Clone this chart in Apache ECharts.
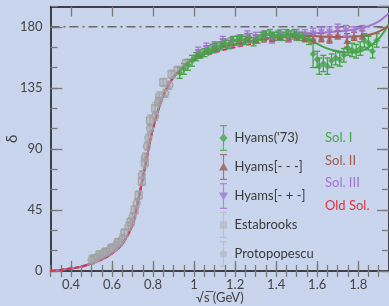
<!DOCTYPE html>
<html>
<head>
<meta charset="utf-8">
<script src="https://cdn.jsdelivr.net/npm/echarts@6/dist/echarts.min.js"></script>
<style>
  html, body { margin: 0; padding: 0; background: #c9d5ec; }
  #chart { width: 389px; height: 306px; }
</style>
</head>
<body>
<div id="chart"></div>
<script>
// axis ticks
const xMajor = [0.4, 0.6, 0.8, 1.0, 1.2, 1.4, 1.6, 1.8]

// shared low-energy part of the fitted phase shift (all solutions agree there)
const lowX = [0.3, 0.35, 0.4, 0.45, 0.5, 0.55, 0.6, 0.65, 0.7, 0.72, 0.745, 0.77, 0.79, 0.81, 0.83, 0.86, 0.9, 0.95]
const lowY = [0, 0.8, 1.8, 3.2, 5.5, 8.5, 13, 20, 34, 47, 65, 84, 99, 111, 121, 133, 143, 151]

// above 1 GeV
const midX = [1.0, 1.1, 1.2, 1.3, 1.4]
const midY = [157, 163, 167, 170, 172.5]
const oldSolX = [1.0, 1.1, 1.2, 1.3, 1.4, 1.45]
const oldSolY = [155.5, 161, 165, 168, 170.5, 171.5]
const sol1X = [1.45, 1.5, 1.55, 1.58, 1.62, 1.66, 1.7, 1.75, 1.8, 1.84, 1.88, 1.91, 1.95]
const sol1Y = [173.5, 172.5, 171, 169, 166, 163.5, 162, 161, 161.5, 164, 168.5, 173, 182]
const sol2X = [1.45, 1.5, 1.6, 1.7, 1.8, 1.85, 1.9, 1.95]
const sol2Y = [173, 173.5, 173, 172.5, 173, 174, 176.5, 181]
const sol3X = [1.45, 1.5, 1.6, 1.7, 1.8, 1.85, 1.9, 1.95]
const sol3Y = [174, 175, 175.5, 176.5, 178.5, 180.5, 184, 190]

// data points: x, delta, error
const hyamsX = [0.93, 0.95, 0.97, 0.99, 1.01, 1.03, 1.05, 1.07, 1.09, 1.11, 1.13, 1.15, 1.17, 1.19, 1.21, 1.23, 1.25, 1.27, 1.29, 1.31, 1.33, 1.35, 1.37, 1.39, 1.41, 1.43, 1.45, 1.47, 1.49, 1.51, 1.53, 1.56, 1.58, 1.6, 1.61, 1.63, 1.65, 1.67, 1.69, 1.71, 1.73, 1.75, 1.77, 1.79, 1.81, 1.83, 1.85, 1.87, 1.89]
const hyamsY = [146, 149, 152, 155, 158, 160, 161, 163, 164, 165, 166, 168, 167, 170, 170, 171, 170, 172, 169, 171, 173, 174, 175, 173, 174, 173, 175, 174, 175, 173, 173, 171, 160, 156, 151, 153, 151, 155, 157, 156, 159, 164, 163, 162, 164, 170, 168, 162, 170]
const hyamsErr = [4, 4, 4, 4, 3, 3, 3, 3, 3, 3, 3, 3, 3, 3, 3, 3, 3, 3, 3, 3, 3, 3, 3, 3, 3, 3, 3, 3, 3, 3, 3, 4, 10, 6, 6, 6, 6, 5, 5, 5, 5, 5, 5, 5, 5, 5, 5, 5, 5]

const hyamsMmmX = [1.02, 1.06, 1.1, 1.14, 1.18, 1.22, 1.26, 1.3, 1.34, 1.38, 1.42, 1.46, 1.5, 1.54, 1.58, 1.62, 1.66, 1.7, 1.745, 1.78, 1.82]
const hyamsMmmY = [160, 163, 165, 168, 169, 170, 172, 171, 173, 172, 173, 172, 173, 172, 171, 172, 171, 174, 170, 173, 174]
const hyamsMmmErr = [3, 3, 3, 3, 3, 3, 3, 3, 3, 3, 3, 3, 3, 3, 3, 3, 3, 3, 5, 3, 3]

const hyamsMpmX = [1.02, 1.06, 1.1, 1.14, 1.18, 1.22, 1.26, 1.3, 1.34, 1.38, 1.42, 1.46, 1.5, 1.54, 1.58, 1.62, 1.66, 1.7, 1.74, 1.78, 1.82]
const hyamsMpmY = [161, 164, 165, 169, 168, 170, 173, 172, 173, 172, 174, 173, 174, 174, 175, 176, 176, 178, 177, 176, 177]
const hyamsMpmErr = [4, 4, 4, 4, 4, 4, 4, 4, 4, 4, 4, 4, 4, 4, 4, 4, 4, 4, 4, 4, 4]

const estaX = [0.51, 0.54, 0.57, 0.6, 0.63, 0.66, 0.69, 0.71, 0.73, 0.745, 0.76, 0.785, 0.81, 0.83, 0.85, 0.89, 0.92, 0.96]
const estaY = [9, 12, 14, 17, 21, 28, 36, 45, 56, 66, 80, 111, 120, 128, 139, 145, 148, 153]
const estaErr = [3, 3, 3, 3, 3, 3, 3, 3, 3, 3, 4, 4, 4, 4, 3, 3, 3, 3]

const protoX = [0.5, 0.53, 0.56, 0.59, 0.62, 0.65, 0.68, 0.7, 0.72, 0.745, 0.76, 0.77, 0.777, 0.785, 0.81, 0.825, 0.86, 0.88]
const protoY = [8, 10, 13, 16, 19, 24, 33, 40, 50, 71, 84, 92, 98, 105, 114, 125, 131, 137]
const protoErr = [3, 3, 3, 3, 3, 3, 3, 3, 3, 3, 3, 3, 3, 3, 3, 3, 3, 3]

const green = '#45a445'
const brown = '#a05c4c'
const purple = '#a375d2'
const red = '#e2323f'
const gray = '#a0a0a0'
const grayFill = 'rgba(165,165,165,0.6)'
const font = 'Lato'

const zip = (xs, ys) => xs.map((v, i) => [v, ys[i]])
const bars = (xs, ys, es) => xs.map((v, i) => [v, ys[i] - es[i], ys[i] + es[i]])

const errorBar = (params, api) => {
  const x = api.value(0)
  const p1 = api.coord([x, api.value(1)])
  const p2 = api.coord([x, api.value(2)])
  const style = { stroke: api.visual('color'), lineWidth: 1.3 }
  return {
    type: 'group',
    children: [
      { type: 'line', shape: { x1: p1[0], y1: p1[1], x2: p2[0], y2: p2[1] }, style },
      { type: 'line', shape: { x1: p1[0] - 3, y1: p1[1], x2: p1[0] + 3, y2: p1[1] }, style },
      { type: 'line', shape: { x1: p2[0] - 3, y1: p2[1], x2: p2[0] + 3, y2: p2[1] }, style }
    ]
  }
}

const barPath = 'M5.4,0H6.6V26H5.4Z M2.5,0H9.5V1.2H2.5Z M2.5,24.8H9.5V26H2.5Z '
const icons = {
  diamond: 'path://' + barPath + 'M6,8.5L10,13L6,17.5L2,13Z',
  up: 'path://' + barPath + 'M6,8.5L10.5,16.5L1.5,16.5Z',
  down: 'path://' + barPath + 'M1.5,9.5L10.5,9.5L6,17.5Z',
  square: 'path://' + barPath + 'M2.5,9.5H9.5V16.5H2.5Z',
  circle: 'path://' + barPath + 'M2.5,13A3.5,3.5 0 1 1 9.5,13A3.5,3.5 0 1 1 2.5,13Z'
}

const chart = echarts.init(document.getElementById('chart'))

const xBase = {
  type: 'value', min: 0.3, max: 1.95, gridIndex: 0,
  splitLine: { show: false }
}
const yBase = {
  type: 'value', min: 0, max: 195, gridIndex: 0,
  splitLine: { show: false }
}
const tickColor = '#7a7a7a'

const errSeries = (xs, ys, es, color) => ({
  type: 'custom',
  renderItem: errorBar,
  data: bars(xs, ys, es),
  encode: { x: 0, y: [1, 2] },
  itemStyle: { color },
  silent: true,
  z: 4
})

const pointSeries = (name, xs, ys, symbol, color, extra) => Object.assign({
  name,
  type: 'scatter',
  data: zip(xs, ys),
  symbol,
  symbolSize: 7,
  itemStyle: { color },
  silent: true,
  z: 5
}, extra || {})

const curve = (name, xs, ys, color, extra) => Object.assign({
  name,
  type: 'line',
  data: zip(xs, ys),
  smooth: 0.35,
  symbol: 'none',
  lineStyle: { color, width: 2 },
  itemStyle: { color },
  silent: true,
  z: 3
}, extra || {})

const option = {
  backgroundColor: '#c9d5ec',
  animation: false,
  grid: { left: 50.5, right: 0, top: 6.5, bottom: 35, outerBoundsMode: 'none' },
  xAxis: [
    Object.assign({}, xBase, {
      position: 'bottom',
      name: '√s̅ (GeV)',
      nameLocation: 'middle',
      nameGap: 20,
      nameMoveOverlap: false,
      nameTextStyle: { color: '#444', fontSize: 13, fontFamily: font },
      axisLine: { show: true, onZero: false, lineStyle: { color: '#111', width: 1.5 } },
      axisTick: { show: true, inside: true, length: 10, customValues: xMajor, lineStyle: { color: tickColor, width: 1.3 } },
      axisLabel: { customValues: xMajor, margin: 7, color: '#444', fontSize: 13, fontFamily: font }
    }),
    Object.assign({}, xBase, {
      position: 'bottom', interval: 0.05,
      axisLine: { show: false },
      axisTick: { show: true, inside: true, length: 6, lineStyle: { color: tickColor, width: 1.3 } },
      axisLabel: { show: false }
    }),
    Object.assign({}, xBase, {
      position: 'top',
      axisLine: { show: true, onZero: false, lineStyle: { color: '#111', width: 1.5 } },
      axisTick: { show: true, inside: true, length: 10, customValues: xMajor, lineStyle: { color: tickColor, width: 1.3 } },
      axisLabel: { show: false }
    }),
    Object.assign({}, xBase, {
      position: 'top', interval: 0.05,
      axisLine: { show: false },
      axisTick: { show: true, inside: true, length: 6, lineStyle: { color: tickColor, width: 1.3 } },
      axisLabel: { show: false }
    })
  ],
  yAxis: [
    Object.assign({}, yBase, {
      position: 'left', interval: 45,
      name: 'δ',
      nameLocation: 'middle',
      nameRotate: 90,
      nameGap: 31,
      nameMoveOverlap: false,
      nameTextStyle: { color: '#444', fontSize: 15, fontFamily: font },
      axisLine: { show: true, onZero: false, lineStyle: { color: '#111', width: 1.5 } },
      axisTick: { show: true, inside: true, length: 12, lineStyle: { color: tickColor, width: 1.3 } },
      axisLabel: { margin: 8, color: '#444', fontSize: 13, fontFamily: font, showMaxLabel: false }
    }),
    Object.assign({}, yBase, {
      position: 'left', interval: 15,
      axisLine: { show: false },
      axisTick: { show: true, inside: true, length: 7, lineStyle: { color: tickColor, width: 1.3 } },
      axisLabel: { show: false }
    }),
    Object.assign({}, yBase, {
      position: 'right', interval: 45,
      axisLine: { show: true, onZero: false, lineStyle: { color: '#111', width: 1.5 } },
      axisTick: { show: true, inside: true, length: 12, lineStyle: { color: tickColor, width: 1.3 } },
      axisLabel: { show: false }
    }),
    Object.assign({}, yBase, {
      position: 'right', interval: 15,
      axisLine: { show: false },
      axisTick: { show: true, inside: true, length: 7, lineStyle: { color: tickColor, width: 1.3 } },
      axisLabel: { show: false }
    })
  ],
  legend: [
    {
      orient: 'vertical',
      left: 214,
      top: 120,
      itemWidth: 12,
      itemHeight: 26,
      itemGap: 3,
      selectedMode: false,
      itemStyle: { borderWidth: 0 },
      textStyle: { color: '#3a3a3a', fontSize: 13, fontFamily: font },
      data: [
        { name: "Hyams('73)", icon: icons.diamond },
        { name: 'Hyams[- - -]', icon: icons.up },
        { name: 'Hyams[- + -]', icon: icons.down },
        { name: 'Estabrooks', icon: icons.square },
        { name: 'Protopopescu', icon: icons.circle }
      ]
    },
    {
      orient: 'vertical',
      left: 315,
      top: 120,
      itemWidth: 0,
      itemHeight: 26,
      itemGap: 3,
      icon: 'none',
      selectedMode: false,
      textStyle: { fontSize: 13, fontFamily: font },
      data: [
        { name: 'Sol. I', textStyle: { color: green } },
        { name: 'Sol. II', textStyle: { color: brown } },
        { name: 'Sol. III', textStyle: { color: purple } },
        { name: 'Old Sol.', textStyle: { color: red } }
      ]
    }
  ],
  series: [
    // dash-dot reference line at 180
    {
      type: 'line',
      data: [[0.3, 180], [1.95, 180]],
      symbol: 'none',
      lineStyle: { color: '#6a6a6a', width: 1.5, type: [9, 4, 2, 4] },
      silent: true,
      z: 1
    },
    errSeries(estaX, estaY, estaErr, 'rgba(155,155,155,0.75)'),
    errSeries(protoX, protoY, protoErr, 'rgba(155,155,155,0.75)'),
    pointSeries('Estabrooks', estaX, estaY, 'rect', grayFill, { itemStyle: { color: grayFill, borderColor: gray, borderWidth: 1.3 } }),
    pointSeries('Protopopescu', protoX, protoY, 'circle', grayFill, { itemStyle: { color: grayFill, borderColor: gray, borderWidth: 1.3 } }),
    curve('Sol. I', lowX.concat(midX, sol1X), lowY.concat(midY, sol1Y), green),
    curve('Sol. II', lowX.concat(midX, sol2X), lowY.concat(midY, sol2Y), brown),
    curve('Sol. III', lowX.concat(midX, sol3X), lowY.concat(midY, sol3Y), purple),
    curve('Old Sol.', lowX.concat(oldSolX), lowY.concat(oldSolY), red, { lineStyle: { color: red, width: 2, type: [5, 3] } }),
    errSeries(hyamsMmmX, hyamsMmmY, hyamsMmmErr, brown),
    pointSeries('Hyams[- - -]', hyamsMmmX, hyamsMmmY, 'triangle', brown),
    errSeries(hyamsMpmX, hyamsMpmY, hyamsMpmErr, purple),
    pointSeries('Hyams[- + -]', hyamsMpmX, hyamsMpmY, 'triangle', purple, { symbolRotate: 180 }),
    errSeries(hyamsX, hyamsY, hyamsErr, green),
    pointSeries("Hyams('73)", hyamsX, hyamsY, 'diamond', green)
  ]
}

chart.setOption(option)
</script>
</body>
</html>
